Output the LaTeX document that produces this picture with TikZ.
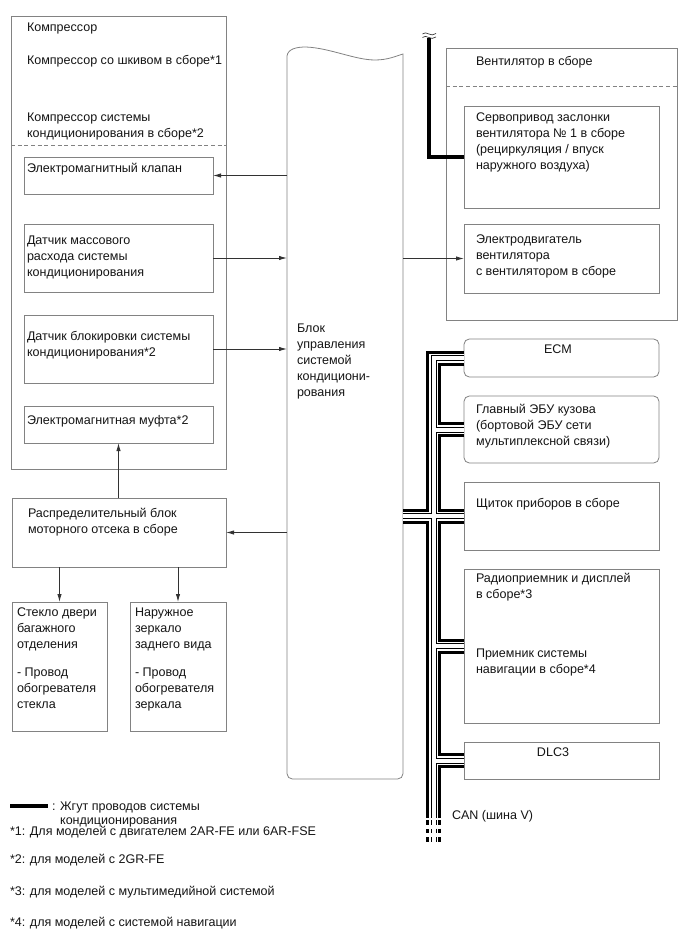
\documentclass[tikz,border=0pt]{standalone}
\usepackage{fontspec}
\setmainfont{Liberation Sans}
\usetikzlibrary{arrows.meta,calc}
\definecolor{boxgray}{RGB}{130,130,130}
\definecolor{arrgray}{RGB}{50,50,50}
\definecolor{txt}{RGB}{20,20,20}
\newcommand\bx[6][]{\node[boxnode,#1,minimum width={(#5-#3)*0.75pt},minimum height={(#6-#4)*0.75pt}] (#2) at (#3,#4) {};}
\newcommand\canpaths[1]{%
  \draw[#1] (ecm.west) -| (canbot);
  \draw[#1] (glav.west) -- (glav.west -| canbot);
  \draw[#1] (ctrl.east |- shch.west) -- (shch.west);
  \draw[#1] (radio.west) -- (radio.west -| canbot);
  \draw[#1] (dlc.west) -- (dlc.west -| canbot);
  \draw[#1,dash pattern=on 3.4pt off 3pt] (candash0) -- (candash1);
}
\begin{document}
\begin{tikzpicture}[x=0.75pt,y=-0.75pt,
  boxnode/.style={draw=boxgray,line width=0.6pt,anchor=north west,inner sep=0pt,outer sep=0pt,rectangle},
  roundbox/.style={rounded corners=4pt},
  ghost/.style={draw=none},
  lbl/.style={anchor=north west,inner sep=0pt,outer sep=0pt,align=left,text=txt,font=\fontsize{9.4}{12}\selectfont},
  clbl/.style={lbl,anchor=north,align=center},
  arr/.style={draw=arrgray,line width=0.6pt,-{Latex[length=6pt,width=3.2pt]}},
  harness/.style={line width=3pt,draw=black},
  sepline/.style={draw=boxgray,line width=0.6pt,dash pattern=on 3pt off 2pt},
  canA/.style={line width=11.25pt,draw=black},
  canB/.style={line width=6.75pt,draw=white},
  canC/.style={line width=4.5pt,draw=black},
  canD/.style={line width=3pt,draw=white},
  wave/.style={draw=arrgray,line width=0.5pt}
]
\useasboundingbox (0,0) rectangle (690,952);

% ---------- boxes ----------
\bx{comp}{11}{16}{226}{469}
\bx{klapan}{24}{157}{213}{194}
\bx{mass}{24}{224}{213}{292}
\bx{blk}{24}{315}{213}{383}
\bx{mufta}{24}{406}{213}{443}
\bx{rasp}{12}{498}{226}{567}
\bx{steklo}{12}{602}{107}{731}
\bx{naruzh}{130}{602}{226}{731}
\bx[ghost]{ctrl}{287}{52}{403}{779}
\bx{vent}{446}{48}{677}{320}
\bx{servo}{464}{106}{659}{208}
\bx{motor}{464}{224}{659}{293}
\bx[roundbox]{ecm}{464}{339}{659}{377}
\bx[roundbox]{glav}{464}{396}{659}{463}
\bx{shch}{464}{482}{659}{550}
\bx{radio}{464}{569}{659}{723}
\bx{dlc}{464}{742}{659}{779}

% dashed separators
\draw[sepline] (11,145) -- (226,145);
\draw[sepline] (446,86) -- (677,86);

% central control block (wavy top, rounded bottom)
\draw[draw=boxgray,line width=0.6pt] (287,56) .. controls (288,49) and (296,47) .. (306,47)
  .. controls (330,48) and (355,60) .. (375,60) .. controls (388,60) and (396,56) .. (403,54)
  [rounded corners=4pt] -- (403,779) -- (287,779) [sharp corners] -- (287,56);

% ---------- CAN bus ----------
\coordinate (canbot) at (433.5,818);
\coordinate (candash0) at (433.5,820);
\coordinate (candash1) at (433.5,845);
\canpaths{canA}
\canpaths{canB}
\canpaths{canC}
\canpaths{canD}

% ---------- harness ----------
\coordinate (hbreak) at (429,38);
\draw[harness] (servo.west) -| (hbreak);
\draw[wave] (422.5,34) .. controls (426,30) and (431,38) .. (436,33.5);
\draw[wave] (422.5,37.5) .. controls (426,33.5) and (431,41.5) .. (436,37);

% ---------- arrows ----------
\draw[arr] (ctrl.west |- klapan.east) -- (klapan.east);
\draw[arr] (mass.east) -- (mass.east -| ctrl.west);
\draw[arr] (blk.east) -- (blk.east -| ctrl.west);
\draw[arr] (ctrl.west |- rasp.east) -- (rasp.east);
\draw[arr] (mufta.south |- rasp.north) -- (mufta.south);
\draw[arr] (steklo.north |- rasp.south) -- (steklo.north);
\draw[arr] (naruzh.north |- rasp.south) -- (naruzh.north);
\draw[arr] (ctrl.east |- motor.west) -- (motor.west);

% ---------- texts ----------
\node[lbl] (tcomp1) at (27,20) {\strut Компрессор};
\node[lbl] (tcomp2) at (27,53) {\strut Компрессор со шкивом в сборе*1};
\node[lbl] (tcomp3) at (27,110) {\strut Компрессор системы\\кондиционирования в сборе*2};
\node[lbl] (tklapan) at (27,161) {\strut Электромагнитный клапан};
\node[lbl] (tmass) at (27,233) {\strut Датчик массового\\расхода системы\\кондиционирования};
\node[lbl] (tblk) at (27,329) {\strut Датчик блокировки системы\\кондиционирования*2};
\node[lbl] (tmufta) at (27,413) {\strut Электромагнитная муфта*2};
\node[lbl] (trasp) at (28,506) {\strut Распределительный блок\\моторного отсека в сборе};
\node[lbl] (tsteklo) at (17,605) {\strut Стекло двери\\багажного\\отделения\\[9pt]- Провод\\обогревателя\\стекла};
\node[lbl] (tnaruzh) at (135,605) {\strut Наружное\\зеркало\\заднего вида\\[9pt]- Провод\\обогревателя\\зеркала};
\node[lbl] (tctrl) at (297,321) {\strut Блок\\управления\\системой\\кондициони-\\рования};
\node[lbl] (tvent) at (476,54) {\strut Вентилятор в сборе};
\node[lbl] (tservo) at (476,110) {\strut Сервопривод заслонки\\вентилятора № 1 в сборе\\(рециркуляция / впуск\\наружного воздуха)};
\node[lbl] (tmotor) at (476,232) {\strut Электродвигатель\\вентилятора\\с вентилятором в сборе};
\node[clbl] (tecm) at (558,342) {\strut ECM};
\node[lbl] (tglav) at (476,402) {\strut Главный ЭБУ кузова\\(бортовой ЭБУ сети\\мультиплексной связи)};
\node[lbl] (tshch) at (476,496) {\strut Щиток приборов в сборе};
\node[lbl] (tradio) at (476,571) {\strut Радиоприемник и дисплей\\в сборе*3};
\node[lbl] (tnavi) at (476,646) {\strut Приемник системы\\навигации в сборе*4};
\node[clbl] (tdlc) at (553,745) {\strut DLC3};
\node[lbl] (tcan) at (452,808) {\strut CAN (шина V)};

% ---------- legend ----------
\coordinate (lgA) at (10,806);
\coordinate (lgB) at (48,806);
\draw[harness] (lgA) -- (lgB);
\node[lbl] (tleg0) at (52,799) {\strut : Жгут проводов системы\\[-1.5pt]\phantom{: }кондиционирования};
\node[lbl] (tleg1) at (10,824) {\strut *1: Для моделей с двигателем 2AR-FE или 6AR-FSE};
\node[lbl] (tleg2) at (10,852) {\strut *2: для моделей с 2GR-FE};
\node[lbl] (tleg3) at (10,884) {\strut *3: для моделей с мультимедийной системой};
\node[lbl] (tleg4) at (10,915) {\strut *4: для моделей с системой навигации};
\end{tikzpicture}
\end{document}
